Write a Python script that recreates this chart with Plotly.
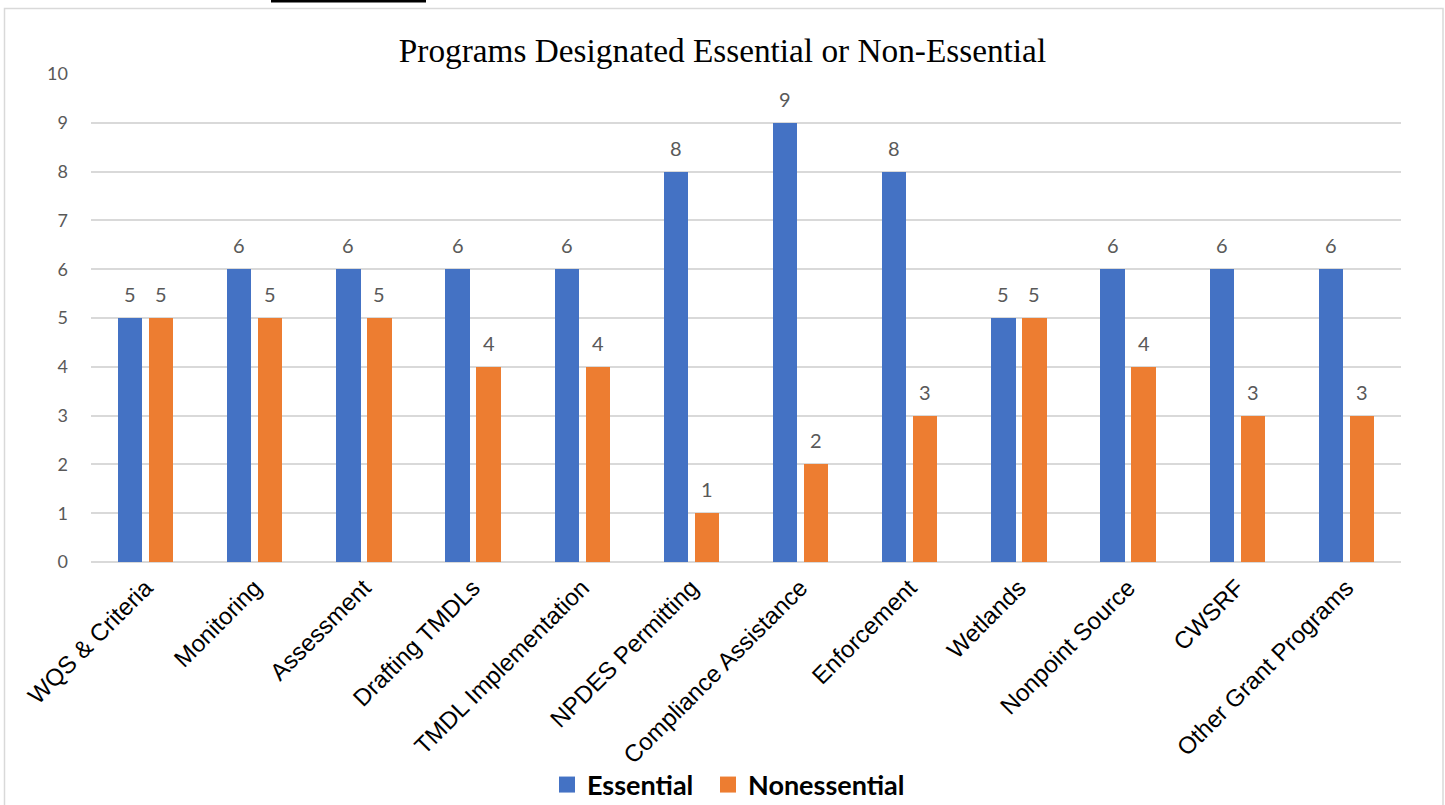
import plotly.graph_objects as go

categories = ["WQS & Criteria", "Monitoring", "Assessment", "Drafting TMDLs",
              "TMDL Implementation", "NPDES Permitting", "Compliance Assistance",
              "Enforcement", "Wetlands", "Nonpoint Source", "CWSRF", "Other Grant Programs"]
essential = [5, 6, 6, 6, 6, 8, 9, 8, 5, 6, 6, 6]
nonessential = [5, 5, 5, 4, 4, 1, 2, 3, 5, 4, 3, 3]
y_ticks = list(range(0, 11))

BLUE = "#4472C4"
ORANGE = "#ED7D31"
GRAY_TXT = "#595959"
GRID = "#D9D9D9"

idx = list(range(len(categories)))
off = 0.142
bw = 0.223

fig = go.Figure()
fig.add_trace(go.Bar(x=[i - off for i in idx], y=essential, width=bw,
                     marker=dict(color=BLUE, line=dict(width=0)), showlegend=False))
fig.add_trace(go.Bar(x=[i + off for i in idx], y=nonessential, width=bw,
                     marker=dict(color=ORANGE, line=dict(width=0)), showlegend=False))
# legend entries
fig.add_trace(go.Scatter(x=[None], y=[None], mode="markers", name="Essential",
                         marker=dict(symbol="square", size=17, color=BLUE), legend="legend"))
fig.add_trace(go.Scatter(x=[None], y=[None], mode="markers", name="Nonessential",
                         marker=dict(symbol="square", size=17, color=ORANGE), legend="legend2"))

annotations = []
for i in idx:
    for xv, yv in ((i - off, essential[i]), (i + off, nonessential[i])):
        annotations.append(dict(x=xv, y=yv, xref="x", yref="y", text=str(yv),
                                showarrow=False, yshift=24, yanchor="middle",
                                font=dict(family="Lato", size=20, color=GRAY_TXT)))

legend_font = dict(family="Lato", size=27, color="black", weight="bold")
ly = (562 - 785) / 488

fig.update_layout(
    width=1445, height=805,
    margin=dict(l=91, r=44, t=74, b=243, autoexpand=False),
    paper_bgcolor="white", plot_bgcolor="white",
    title=dict(text="Programs Designated Essential or Non-Essential",
               x=0.5, xref="container", xanchor="center",
               y=1 - 50 / 805, yref="container", yanchor="middle",
               font=dict(family="Liberation Serif", size=33.3, color="black")),
    xaxis=dict(range=[-0.5, len(categories) - 0.5], tickmode="array",
               tickvals=idx, ticktext=categories, tickangle=-45, automargin=False,
               tickfont=dict(family="Liberation Sans", size=24, color="black"),
               showgrid=False, zeroline=False, showline=False, ticks="",
               ticklabelstandoff=6),
    yaxis=dict(range=[0, 10], tickmode="array", tickvals=y_ticks, automargin=False,
               tickfont=dict(family="Lato", size=18, color=GRAY_TXT),
               showgrid=True, gridcolor=GRID, gridwidth=1.5,
               zeroline=True, zerolinecolor=GRID, zerolinewidth=1.5,
               showline=False, ticks="", ticklabelstandoff=22),
    legend=dict(orientation="h", x=(547 - 91) / 1310, xanchor="left", y=ly,
                yanchor="middle", font=legend_font,
                bgcolor="rgba(0,0,0,0)", itemclick=False),
    legend2=dict(orientation="h", x=(708 - 91) / 1310, xanchor="left", y=ly,
                 yanchor="middle", font=legend_font,
                 bgcolor="rgba(0,0,0,0)", itemclick=False),
    annotations=annotations,
    shapes=[
        dict(type="rect", xref="paper", yref="paper",
             x0=(4.5 - 91) / 1310, x1=(1443 - 91) / 1310,
             y0=(562 - 820) / 488, y1=(562 - 8.5) / 488,
             line=dict(color=GRID, width=1.5), fillcolor="rgba(0,0,0,0)", layer="below"),
        dict(type="rect", xref="paper", yref="paper",
             x0=(271 - 91) / 1310, x1=(426 - 91) / 1310,
             y0=(562 - 2.5) / 488, y1=(562 + 2) / 488,
             line=dict(width=0), fillcolor="black"),
    ],
    bargap=0, barmode="overlay",
)

fig.write_html("out.html")
